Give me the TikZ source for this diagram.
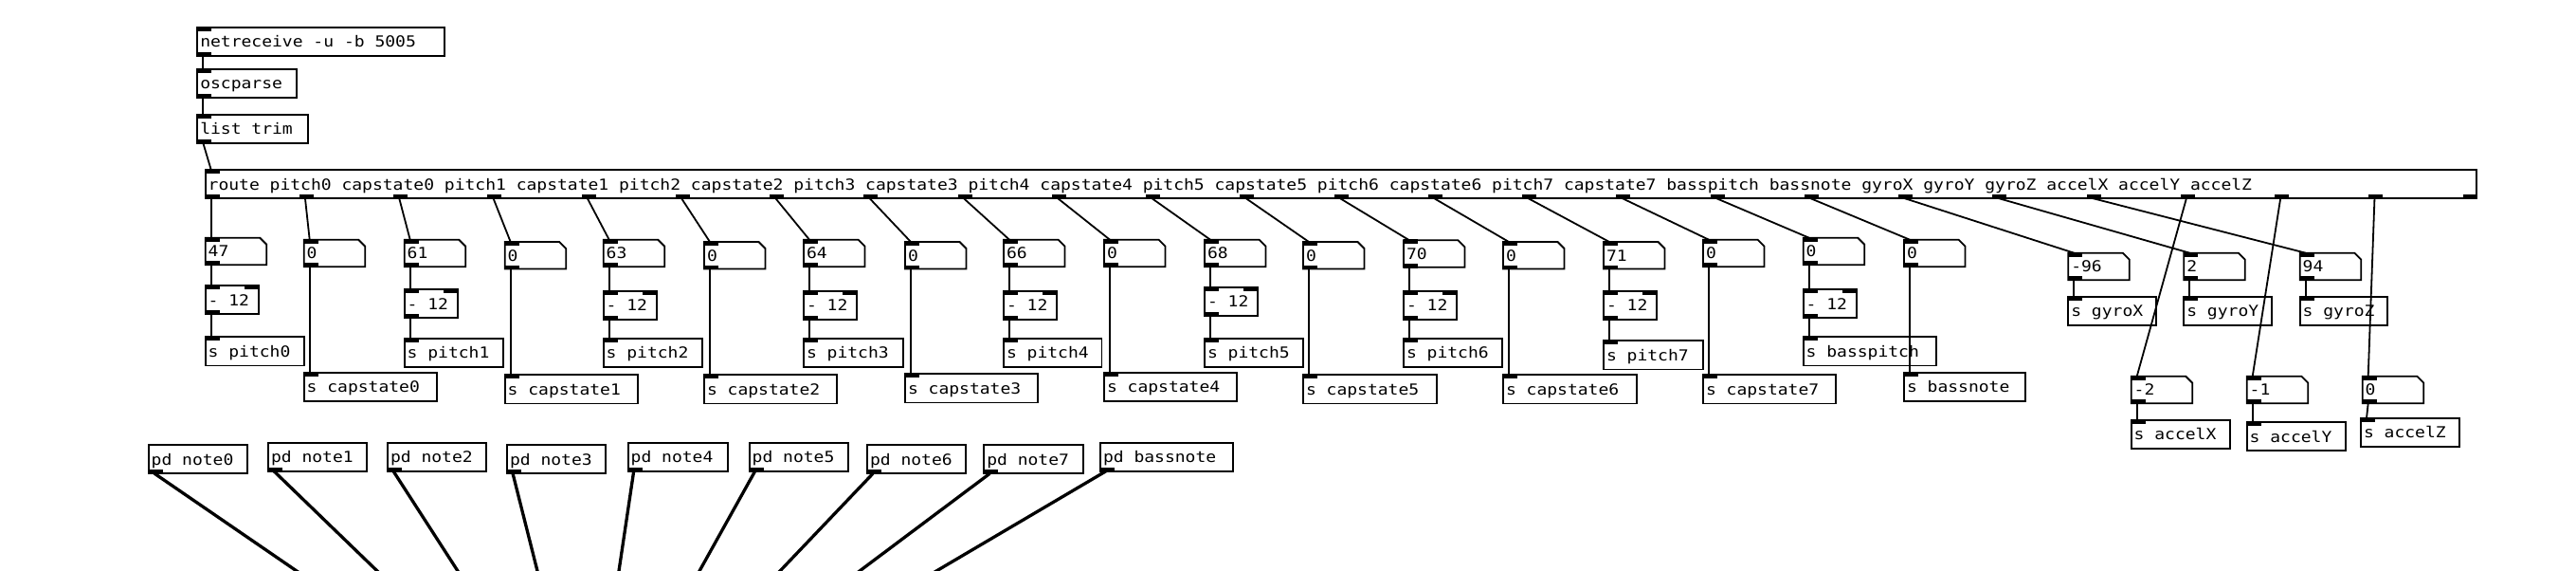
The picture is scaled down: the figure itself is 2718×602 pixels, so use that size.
\documentclass[tikz,border=0pt]{standalone}
\usepackage{fontspec}
\newfontfamily\pdfam[FakeStretch=1.125]{DejaVu Sans Mono}
\newcommand\pdfont{\pdfam\fontsize{16pt}{18pt}\selectfont
  \spaceskip=\fontcharwd\font`0\relax\xspaceskip=\spaceskip}
\tikzset{
  pdline/.style={line width=1.8pt},
  cord/.style={line width=1.8pt},
  sigcord/.style={line width=3.3pt},
  pdbox/.style={draw, line width=1.8pt, anchor=north west, inner xsep=3pt, inner ysep=0pt,
    outer sep=0pt, align=flush left, font=\pdfont, text height=14pt, text depth=2pt},
}
% inlets / outlets
\newcommand\inl[1]{\fill ([yshift=0.9pt]#1.north west) rectangle ([xshift=15pt,yshift=-4pt]#1.north west);}
\newcommand\inr[1]{\fill ([yshift=0.9pt]#1.north east) rectangle ([xshift=-15pt,yshift=-4pt]#1.north east);}
\newcommand\outl[1]{\fill ([yshift=-0.9pt]#1.south west) rectangle ([xshift=15pt,yshift=4pt]#1.south west);}
% object box: name, x, y, width, height, text
\newcommand\pdobj[6]{%
  \pgfmathsetmacro\pdtw{#4-6}%
  \node[pdbox, text width=\pdtw pt, minimum width=#4pt, minimum height=#5pt] (#1) at (#2,#3) {#6};}
% number (atom) box: name, x, y, text
\newcommand\pdatom[4]{%
  \node[pdbox, draw=none, text width=58.5pt, minimum width=64.5pt, minimum height=28.5pt] (#1) at (#2,#3) {#4};
  \draw[pdline] (#1.north west) -- ([xshift=-7pt]#1.north east) -- ([yshift=-7pt]#1.north east)
     -- (#1.south east) -- (#1.south west) -- cycle;
  \inl{#1}\outl{#1}}
\newcommand\pdcord[2]{\draw[cord] ([xshift=6pt]#1.south west) -- ([xshift=6pt]#2.north west);}
\begin{document}
\begin{tikzpicture}[x=1pt,y=-1pt]
\useasboundingbox (0,0) rectangle (2718,602);
\clip (0,0) rectangle (2718,602);

% top chain
\pdobj{netr}{208.3}{29}{261}{30}{netreceive -u -b 5005}\inl{netr}\outl{netr}
\pdobj{oscp}{208.3}{72.7}{105}{30}{oscparse}\inl{oscp}\outl{oscp}
\pdobj{ltrim}{208.3}{120.7}{116.4}{30}{list trim}\inl{ltrim}\outl{ltrim}
\pdobj{route}{216.7}{179}{2396}{30}{route pitch0 capstate0 pitch1 capstate1 pitch2 capstate2 pitch3 capstate3 pitch4 capstate4 pitch5 capstate5 pitch6 capstate6 pitch7 capstate7 basspitch bassnote gyroX gyroY gyroZ accelX accelY accelZ}
\inl{route}
\foreach \i in {0,...,24}{
  \fill ([xshift={\i*99.25pt}, yshift=-0.9pt]route.south west) rectangle ([xshift={\i*99.25pt+15pt}, yshift=4pt]route.south west);
}
\pdcord{netr}{oscp}
\pdcord{oscp}{ltrim}
\pdcord{ltrim}{route}

% pitch columns
\foreach \k/\x/\nt/\sb/\ss/\sw/\val/\nm in {
  0/216.7/250.7/301/355/104.3/47/pitch0,
  2/426.7/252.7/305/356.7/104.3/61/pitch1,
  4/636.7/252.7/306.7/356.7/104.3/63/pitch2,
  6/848/252.7/306.7/356.7/105/64/pitch3,
  8/1059/252.7/306.7/356.7/103.5/66/pitch4,
  10/1271/252.7/302.7/356.7/104/68/pitch5,
  12/1481/253.3/306.7/356.7/104/70/pitch6,
  14/1692/255/306.7/359/105/71/pitch7,
  16/1902.7/250.7/305/355/140/0/basspitch}{
  \pdatom{nb\k}{\x}{\nt}{\val}
  \pdobj{sub\k}{\x}{\sb}{56}{30}{- 12}\inl{sub\k}\inr{sub\k}\outl{sub\k}
  \pdobj{snd\k}{\x}{\ss}{\sw}{30.5}{s \nm}\inl{snd\k}
  \pdcord{nb\k}{sub\k}
  \pdcord{sub\k}{snd\k}
}

% capstate columns
\foreach \k/\x/\nt/\ss/\sw/\nm in {
  1/320.7/252.7/392.7/140.3/capstate0,
  3/532.7/255/395/140/capstate1,
  5/743/255/395/139.6/capstate2,
  7/955/255/394/140/capstate3,
  9/1165/252.7/392.7/140/capstate4,
  11/1375/255/395/141/capstate5,
  13/1586/255/395/141/capstate6,
  15/1797/252.7/395/139.6/capstate7,
  17/2009/252.7/392.7/128/bassnote}{
  \pdatom{nb\k}{\x}{\nt}{0}
  \pdobj{snd\k}{\x}{\ss}{\sw}{30.5}{s \nm}\inl{snd\k}
  \pdcord{nb\k}{snd\k}
}

% gyro / accel
\foreach \k/\x/\nt/\val/\sx/\ss/\sw/\nm in {
  18/2182.3/266.7/-96/2182.3/312.7/92.7/gyroX,
  19/2304.3/266.7/2/2304.3/312.7/92.7/gyroY,
  20/2426.7/266.7/94/2426.7/312.7/92.3/gyroZ,
  21/2248.7/396.7/-2/2248.7/442.7/104/accelX,
  22/2370.7/396.7/-1/2370.7/445/104.3/accelY,
  23/2492.7/396.7/0/2491/440.7/104/accelZ}{
  \pdatom{nb\k}{\x}{\nt}{\val}
  \pdobj{snd\k}{\sx}{\ss}{\sw}{30}{s \nm}\inl{snd\k}
  \pdcord{nb\k}{snd\k}
}

% route outlets to number boxes
\foreach \k in {0,...,23}{
  \draw[cord] ([xshift={\k*99.25pt+6pt}]route.south west) -- ([xshift=6pt]nb\k.north west);
}

% pd subpatches and signal cords
\foreach \i/\x/\y/\w/\nm/\ex in {
  0/156.7/469/104.3/note0/313,
  1/283/466.7/104/note1/398,
  2/409/466.7/104/note2/483,
  3/535/469/104/note3/567,
  4/662.7/466.7/105/note4/653,
  5/790.7/466.7/104.3/note5/738,
  6/915/469.3/104.3/note6/823,
  7/1038.3/469.3/104.7/note7/907,
  8/1161/466.7/140/bassnote/988}{
  \pdobj{pn\i}{\x}{\y}{\w}{30}{pd \nm}\outl{pn\i}
  \coordinate (e\i) at (\ex,602);
  \draw[sigcord, shorten >=-40pt] ([xshift=6pt]pn\i.south west) -- (e\i);
}
\end{tikzpicture}
\end{document}
